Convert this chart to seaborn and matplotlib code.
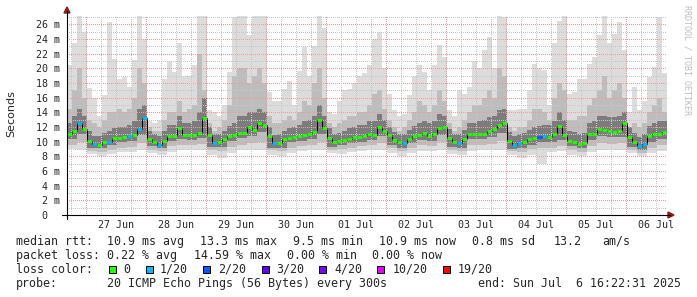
import numpy as np
import pandas as pd
import matplotlib
matplotlib.use("Agg")
import matplotlib.pyplot as plt
import matplotlib.dates as mdates
from matplotlib.patches import Rectangle, Polygon
from matplotlib.lines import Line2D
import seaborn as sns

# ---------------- data ----------------
start_time = "2025-06-26 16:30"          # 2-hour steps
median_ms = [
    11.0, 11.5, 12.6, 11.7, 10.1, 9.65, 9.6, 9.9, 10.0, 10.45, 10.5, 10.6, 10.8, 10.9, 11.7, 13.2, 10.3, 9.9, 9.6, 10.1,
    10.75, 10.75, 11.8, 10.95, 10.9, 10.85, 11.2, 13.2, 10.9, 9.85, 9.9, 10.3, 10.8, 10.9, 11.2, 11.2, 12.0, 11.6, 12.5, 12.3,
    10.75, 9.75, 9.75, 10.3, 10.5, 10.6, 10.75, 10.95, 11.1, 11.35, 12.9, 11.9, 10.5, 9.9, 10.05, 10.2, 10.4, 10.65, 10.65, 10.8,
    11.1, 10.9, 12.0, 11.5, 10.9, 10.2, 9.9, 9.85, 10.4, 10.75, 10.9, 11.2, 10.75, 11.0, 11.8, 12.0, 10.5, 9.9, 9.75, 10.3,
    11.0, 11.0, 11.0, 11.1, 11.45, 11.7, 12.3, 12.5, 10.05, 9.6, 9.75, 9.95, 10.3, 10.5, 10.65, 10.8, 10.65, 11.1, 12.2, 10.9,
    10.05, 10.0, 9.7, 9.75, 11.0, 11.0, 11.7, 11.55, 11.5, 11.3, 11.5, 12.5, 10.65, 10.0, 9.4, 9.65, 10.75, 11.1, 11.1, 11.25,
]
loss_level = [
    0, 0, 1, 0, 0, 1, 0, 0, 1, 0, 0, 0, 1, 0, 1, 1, 0, 0, 1, 0,
    0, 0, 0, 0, 0, 0, 0, 0, 0, 1, 0, 0, 0, 0, 0, 0, 0, 0, 0, 0,
    0, 1, 0, 0, 0, 0, 0, 0, 0, 0, 0, 0, 0, 0, 0, 0, 0, 0, 0, 0,
    0, 0, 0, 0, 0, 0, 0, 1, 0, 0, 0, 0, 0, 0, 0, 0, 0, 0, 1, 0,
    0, 0, 0, 0, 0, 0, 0, 0, 0, 1, 1, 0, 0, 0, 2, 1, 0, 0, 0, 0,
    0, 0, 0, 0, 0, 0, 0, 0, 0, 0, 0, 0, 0, 0, 1, 1, 0, 0, 0, 0,
]
smoke_max = [
    20.5, 23.5, 27.2, 25.0, 17.3, 16.0, 13.5, 16.3, 26.3, 21.3, 18.5, 18.8, 17.5, 21.2, 27.2, 24.0, 12.8, 12.5, 13.0, 18.5,
    21.0, 19.5, 23.4, 19.0, 19.0, 20.5, 27.2, 27.2, 14.3, 14.0, 13.5, 15.0, 19.5, 27.0, 27.2, 27.2, 24.5, 27.2, 27.2, 27.2,
    16.8, 15.5, 15.5, 17.2, 18.3, 15.0, 19.7, 22.9, 19.0, 23.0, 27.2, 25.5, 14.0, 13.8, 15.5, 17.0, 17.2, 18.0, 19.0, 19.3,
    20.5, 24.0, 25.0, 20.0, 16.5, 14.3, 13.5, 13.8, 16.3, 19.0, 20.5, 19.5, 17.0, 20.5, 23.2, 21.5, 14.3, 13.5, 17.0, 16.5,
    17.5, 21.0, 20.0, 22.5, 24.3, 20.0, 27.2, 27.0, 14.3, 14.3, 14.5, 14.5, 17.0, 20.6, 20.0, 19.8, 15.0, 23.5, 26.4, 27.2,
    16.5, 16.8, 18.5, 18.5, 20.6, 21.5, 24.5, 27.2, 23.5, 24.7, 26.3, 22.5, 14.0, 17.5, 14.3, 15.5, 18.8, 20.2, 27.0, 19.3,
]
smoke_mid_hi = [
    14.5, 17, 20, 16, 13, 12.5, 12, 13, 14, 14, 14.5, 14, 14.5, 16, 20, 18, 12, 11.5, 11.5, 13,
    14, 14, 15.5, 14, 14.5, 15, 22, 17, 12.5, 11.5, 12, 13, 15, 19, 20, 20, 18, 19, 20, 18,
    13.5, 12.5, 12.5, 13, 13.5, 13, 14, 15.5, 15, 18, 20, 16, 12.5, 12, 12.5, 13, 13.5, 13.5, 14, 14,
    15, 16.5, 17, 14.5, 13, 12, 11.5, 12, 13, 14, 15.5, 15, 14, 15, 17, 15.5, 12.5, 11.5, 12, 13,
    14, 15, 15, 16, 17, 16, 20, 19, 12, 11.5, 12, 12, 13, 14.5, 14.5, 14, 13, 16, 18, 17,
    13, 13, 13.5, 13.5, 15, 16, 17, 19, 16, 17, 18, 16, 12, 12.5, 12, 12.5, 14, 15, 16, 14,
]
smoke_dark_hi = [
    12.5, 13.5, 14.5, 13.5, 11.5, 10.8, 10.8, 11.2, 11.5, 11.8, 12, 12, 12.3, 12.8, 14.5, 15, 11.5, 11, 10.8, 11.5,
    12.3, 12.3, 13.5, 12.5, 12.5, 12.8, 14, 16, 12, 11, 11, 11.5, 12.2, 12.5, 13.5, 13.5, 14, 14, 14.5, 14,
    12, 10.9, 11, 11.5, 11.8, 12, 12.3, 12.8, 13, 13.5, 15, 13.5, 11.8, 11, 11.2, 11.4, 11.8, 12, 12.3, 12.3,
    12.8, 12.8, 13.8, 13, 12, 11.3, 11, 11, 11.6, 12.2, 12.5, 12.8, 12.5, 12.8, 13.8, 13.5, 11.7, 11, 11, 11.6,
    12.5, 12.5, 12.8, 13, 13.3, 13.5, 14.3, 14.5, 11.3, 10.8, 11, 11.2, 11.6, 12, 12.2, 12.3, 12.3, 12.8, 14, 13,
    11.5, 11.3, 11, 11.2, 12.5, 12.8, 13.5, 13.5, 13.3, 13.3, 13.5, 14, 12, 11.2, 10.7, 11, 12.2, 12.5, 12.8, 12.8,
]
# lower envelopes, 4-hour steps
smoke_min = [
    9.0, 8.8, 8.3, 8.0, 8.3, 8.6, 8.6, 8.9, 8.4, 8.2,
    8.6, 8.8, 8.8, 8.9, 8.2, 7.8, 8.5, 8.8, 8.9, 8.8,
    8.2, 8.0, 8.5, 8.7, 8.8, 8.9, 8.4, 8.3, 8.6, 8.7,
    8.8, 8.9, 8.5, 8.0, 8.4, 8.7, 8.7, 8.9, 8.3, 8.2,
    8.7, 8.8, 8.8, 8.9, 8.2, 7.8, 8.2, 7.0, 8.6, 8.7,
    8.2, 8.0, 8.6, 8.8, 8.8, 8.9, 8.4, 8.0, 8.4, 8.7,
]
smoke_mid_lo = [
    9.6, 9.9, 8.7, 8.6, 8.9, 9.2, 9.3, 9.8, 8.9, 8.7,
    9.4, 9.5, 9.5, 9.7, 8.8, 8.7, 9.3, 9.6, 9.8, 10.0,
    8.8, 8.7, 9.2, 9.4, 9.6, 10.0, 8.9, 9.0, 9.2, 9.4,
    9.5, 9.8, 9.1, 8.7, 9.2, 9.5, 9.4, 9.9, 8.9, 8.7,
    9.5, 9.5, 9.7, 10.1, 8.7, 8.6, 9.0, 9.1, 9.2, 9.4,
    8.9, 8.6, 9.4, 9.8, 9.7, 9.8, 8.9, 8.5, 9.2, 9.5,
]
smoke_dark_lo = [
    10.4, 11.0, 9.2, 9.1, 9.5, 9.9, 10.1, 10.9, 9.4, 9.1,
    10.1, 10.3, 10.2, 10.5, 9.3, 9.3, 10.1, 10.5, 10.8, 11.3,
    9.2, 9.2, 9.9, 10.1, 10.4, 11.0, 9.3, 9.5, 9.8, 10.0,
    10.2, 10.8, 9.6, 9.2, 9.8, 10.2, 10.1, 10.9, 9.3, 9.1,
    10.3, 10.3, 10.7, 11.2, 9.0, 9.1, 9.6, 9.9, 9.9, 10.2,
    9.4, 9.1, 10.2, 10.8, 10.6, 10.7, 9.3, 8.8, 10.0, 10.3,
]
loss_labels = ["0", "1/20", "2/20", "3/20", "4/20", "10/20", "19/20"]
loss_colors = ["#26ff00", "#00b8ff", "#0059ff", "#5e00ff", "#7e00ff", "#dd00ff", "#ff0000"]
y_ticks = list(range(0, 27, 2))
day_labels = ["27 Jun", "28 Jun", "29 Jun", "30 Jun", "01 Jul", "02 Jul", "03 Jul", "04 Jul", "05 Jul", "06 Jul"]

# ---------------- figure ----------------
W, H = 697, 297
def fx(px):
    return px / W
def fy(py):
    return 1 - py / H

sns.set_style("white")
plt.rcParams["font.family"] = ["DejaVu Sans Mono", "DejaVu Sans"]
plt.rcParams["lines.scale_dashes"] = False
fig = plt.figure(figsize=(W / 100, H / 100), dpi=100)
fig.patch.set_facecolor("white")
ax = fig.add_axes([fx(67), 82 / H, 600 / W, 200 / H])
ax.set_facecolor("white")

edges = pd.date_range(start_time, periods=len(median_ms) + 1, freq="2h")
xe = mdates.date2num(edges.to_pydatetime())

def ext(a):
    a = np.asarray(a, dtype=float)
    return np.append(a, a[-1])

def ext4(a):
    a = np.repeat(np.asarray(a, dtype=float), 2)
    return np.append(a, a[-1])

# smoke layers
layers = [
    (ext4(smoke_min), ext(smoke_max), "#dcdcdc"),
    (ext4(smoke_mid_lo), ext(smoke_mid_hi), "#bdbdbd"),
    (ext4(smoke_dark_lo), ext(smoke_dark_hi), "#7c7c7c"),
]
for lo, hi, col in layers:
    ax.fill_between(xe, lo, hi, step="post", color=col, linewidth=0, zorder=1)

# grid: 1px dots every 2px (dash lengths in points, 0.72pt = 1px)
dots = (0, (0.36, 1.08))
for v in range(1, 28):
    col = "#ec9c9c" if v % 2 == 0 else "#c6c6c6"
    ax.axhline(v, color=col, lw=0.72, ls=dots, zorder=2, antialiased=False)
six_h = pd.date_range("2025-06-26 18:00", "2025-07-06 12:00", freq="6h")
for t in six_h:
    col = "#ec9c9c" if t.hour == 0 else "#c6c6c6"
    ax.axvline(mdates.date2num(t.to_pydatetime()), color=col, lw=0.72, ls=dots, zorder=2,
               antialiased=False)

# median line
df = pd.DataFrame({"t": xe, "ms": ext(median_ms)})
sns.lineplot(data=df, x="t", y="ms", ax=ax, drawstyle="steps-post", color="black",
             lw=0.7, estimator=None, zorder=3)
ax.hlines(median_ms, xe[:-1], xe[1:], colors=[loss_colors[l] for l in loss_level],
          lw=1.9, zorder=4)

ax.set_xlim(xe[0], xe[-1])
ax.set_ylim(0, 27.27)
ax.set_xlabel("")
ax.set_ylabel("")
for s in ax.spines.values():
    s.set_visible(False)

# ticks
noon = pd.date_range("2025-06-27 12:00", periods=len(day_labels), freq="1D")
ax.set_xticks(mdates.date2num(noon.to_pydatetime()))
ax.set_xticklabels(day_labels, fontsize=7.2, family="DejaVu Sans Mono")
ax.set_xticks(mdates.date2num(six_h.to_pydatetime()), minor=True)
ax.tick_params(axis="x", which="major", length=0, pad=3.9)
ax.tick_params(axis="x", which="minor", length=1.6, width=0.72, color="black", direction="out")
ax.set_yticks(y_ticks)
ax.set_yticklabels([f"{v:2d} m" if v else " 0" for v in y_ticks], fontsize=7.2,
                   family="DejaVu Sans Mono")
ax.set_yticks(range(1, 28, 2), minor=True)
ax.tick_params(axis="y", which="major", length=2.0, width=0.72, color="black", pad=20.5)
ax.tick_params(axis="y", which="minor", length=1.3, width=0.72, color="black")
for lab in ax.get_yticklabels():
    lab.set_horizontalalignment("left")

# axis lines with arrows
fig.add_artist(Line2D([fx(62), fx(670)], [fy(215), fy(215)], color="black", lw=0.8,
                      transform=fig.transFigure))
fig.add_artist(Line2D([fx(67), fx(67)], [fy(219), fy(11)], color="black", lw=0.8,
                      transform=fig.transFigure))
fig.add_artist(Polygon([[fx(668), fy(212)], [fx(674), fy(215)], [fx(668), fy(218)]],
                       closed=True, color="#8b1a1a", transform=fig.transFigure))
fig.add_artist(Polygon([[fx(64), fy(13)], [fx(67), fy(7)], [fx(70), fy(13)]],
                       closed=True, color="#8b1a1a", transform=fig.transFigure))

# labels
fig.text(fx(11), fy(113.5), "Seconds", rotation=90, ha="center", va="center",
         fontsize=8, family="DejaVu Sans")
fig.text(fx(687), fy(60), "RRDTOOL / TOBI OETIKER", rotation=270, ha="center", va="center",
         fontsize=6, color="#bdbdbd", family="DejaVu Sans Mono")

# legend block
lf = dict(fontsize=8.4, family="DejaVu Sans Mono", va="baseline", ha="left")
rows = [
    (245, [(16, "median rtt:"), (107.3, "10.9 ms avg"), (200, "13.3 ms max"), (293.3, "9.5 ms min"),
           (379.3, "10.9 ms now"), (472, "0.8 ms sd"), (553.6, "13.2"), (602.7, "am/s")]),
    (258.7, [(16, "packet loss:"), (107.3, "0.22 % avg"), (194, "14.59 % max"),
             (286.7, "0.00 % min"), (372.3, "0.00 % now")]),
    (272.7, [(16, "loss color:")]),
    (286.7, [(16, "probe:"), (107.3, "20 ICMP Echo Pings (56 Bytes) every 300s"),
             (478.3, "end: Sun Jul  6 16:22:31 2025")]),
]
for yb, items in rows:
    for x, s in items:
        fig.text(fx(x), fy(yb), s, **lf)

box_x = [108.7, 145.7, 203.3, 261.7, 319.3, 377.3, 442.7]
lab_x = [123.3, 160, 218.3, 276, 334, 392.3, 457.3]
for bx, tx, lab, col in zip(box_x, lab_x, loss_labels, loss_colors):
    fig.add_artist(Rectangle((fx(bx), fy(273.3)), 7 / W, 7 / H, facecolor=col,
                             edgecolor="black", lw=0.72, transform=fig.transFigure))
    fig.text(fx(tx), fy(272.7), lab, **lf)

fig.savefig("out.png", dpi=100, facecolor="white")
